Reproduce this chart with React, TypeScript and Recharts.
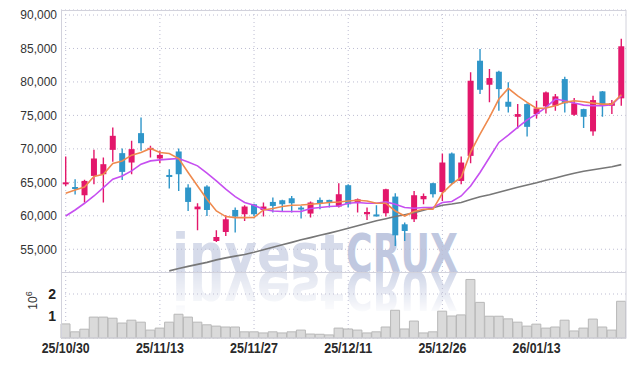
import React from "react";
import { ComposedChart, BarChart, Bar, Line, XAxis, YAxis, CartesianGrid } from "recharts";

const dates = [
     "25/10/30", "25/10/31", "25/11/03", "25/11/04", "25/11/05", "25/11/06", "25/11/07", "25/11/10", "25/11/11", "25/11/12",
     "25/11/13", "25/11/14", "25/11/17", "25/11/18", "25/11/19", "25/11/20", "25/11/21", "25/11/24", "25/11/25", "25/11/26",
     "25/11/27", "25/11/28", "25/12/01", "25/12/02", "25/12/03", "25/12/04", "25/12/05", "25/12/08", "25/12/09", "25/12/10",
     "25/12/11", "25/12/12", "25/12/15", "25/12/16", "25/12/17", "25/12/18", "25/12/19", "25/12/22", "25/12/23", "25/12/24",
     "25/12/26", "25/12/29", "25/12/30", "26/01/02", "26/01/05", "26/01/06", "26/01/07", "26/01/08", "26/01/09", "26/01/12",
     "26/01/13", "26/01/14", "26/01/15", "26/01/16", "26/01/19", "26/01/20", "26/01/21", "26/01/22", "26/01/23", "26/01/26",
];

const opens = [
     64900, 64300, 63070, 65960, 66210, 69850, 69360, 67960, 72350, 69850,
     68560, 66100, 69610, 64220, 60970, 64370, 56230, 57580, 60870, 60230,
     61720, 60870, 62070, 62320, 62620, 61230, 60330, 62370, 62370, 61380,
     64570, 62070, 60230, 60200, 60380, 62870, 58730, 59480, 62470, 64870,
     63560, 69310, 65210, 68950, 83170, 79580, 81530, 77040, 74790, 76690,
     75200, 76350, 76440, 80430, 75090, 75940, 72610, 78590, 76440, 77550,
];
const highs = [
     68860, 65460, 65400, 69850, 68710, 73200, 70060, 71200, 74700, 70450,
     69700, 66960, 70060, 64720, 61870, 64570, 57830, 60080, 61230, 61570,
     61800, 61980, 62730, 62400, 62960, 61470, 62130, 62730, 62400, 64870,
     64700, 62580, 61230, 61570, 64050, 63370, 58980, 63710, 63320, 64950,
     69310, 69460, 68860, 81440, 84930, 81930, 81680, 79940, 76690, 76800,
     77190, 78590, 78190, 80780, 77590, 76000, 77930, 78650, 77290, 86450,
];
const lows = [
     64460, 63170, 61980, 64720, 61980, 68080, 65360, 66210, 69700, 68700,
     67860, 64070, 63710, 60720, 57830, 59970, 56080, 56980, 57490, 59220,
     59970, 59880, 60480, 60570, 60480, 59580, 59730, 60970, 61230, 61230,
     61230, 60480, 59370, 59880, 59880, 55480, 56230, 59070, 61720, 62730,
     62220, 64720, 64720, 67860, 78190, 76950, 75690, 75450, 73050, 71860,
     74540, 75300, 75690, 75450, 74950, 73100, 71950, 74790, 75200, 76440,
];
const closes = [
     65000, 64200, 65210, 68560, 67710, 71950, 66560, 69960, 70850, 70150,
     69100, 65950, 66210, 62070, 61380, 60870, 56830, 59480, 59880, 61380,
     60230, 61380, 61470, 61720, 61870, 60980, 61980, 61870, 61980, 63220,
     61720, 62470, 60570, 60120, 63970, 57080, 57730, 63070, 62960, 63220,
     67960, 64870, 67960, 80180, 78830, 80580, 78930, 76290, 75200, 73290,
     76050, 78440, 77840, 76800, 76800, 74790, 77290, 76590, 76840, 85330,
];

const ma5 = [
     63370, 63860, 64310, 65870, 66210, 67810, 68200, 69060, 69460, 70060,
     69460, 69310, 68560, 66470, 64460, 62470, 60720, 59880, 59730, 59730,
     59750, 60870, 61080, 61380, 61570, 61620, 61720, 61830, 61980, 62070,
     62220, 62320, 62220, 61870, 61870, 60720, 59970, 60630, 60970, 60970,
     63370, 64720, 65760, 69510, 72200, 74700, 77440, 79040, 77930, 76950,
     76050, 76100, 76440, 76950, 77190, 77040, 76840, 76690, 76690, 78080,
];
const ma20 = [
     59970, 60870, 61870, 62960, 64220, 65460, 65960, 66710, 67710, 68200,
     68350, 68460, 68560, 68050, 67460, 66360, 65210, 63970, 62870, 61980,
     61570, 60970, 60720, 60630, 60630, 60630, 61080, 61230, 61380, 61470,
     61870, 61980, 61870, 61870, 62070, 61720, 61230, 61120, 61230, 61230,
     61980, 62130, 62960, 64460, 66470, 68710, 70960, 72050, 73200, 74340,
     75200, 76200, 77440, 77190, 76840, 76540, 76440, 76440, 76590, 77930,
];
const ma60 = [
     null, null, null, null, null, null, null, null, null, null,
     null, 51770, 52110, 52440, 52740, 53040, 53410, 53710, 53970, 54210,
     54540, 54910, 55290, 55660, 56030, 56410, 56740, 57080, 57410, 57760,
     58130, 58500, 58880, 59250, 59550, 59880, 60150, 60450, 60820, 61200,
     61570, 61750, 61980, 62430, 62850, 63140, 63520, 63890, 64270, 64600,
     64940, 65310, 65660, 66020, 66360, 66660, 66890, 67110, 67340, 67640,
];

const volumes = [
     640000, 280000, 400000, 950000, 950000, 900000, 680000, 810000, 720000, 360000,
     450000, 720000, 1080000, 950000, 720000, 600000, 540000, 500000, 500000, 280000,
     280000, 230000, 280000, 230000, 280000, 360000, 180000, 170000, 140000, 450000,
     410000, 360000, 230000, 280000, 500000, 1260000, 410000, 770000, 230000, 280000,
     1220000, 1000000, 1050000, 2660000, 1620000, 990000, 990000, 870000, 720000, 540000,
     630000, 450000, 500000, 810000, 320000, 450000, 860000, 500000, 360000, 1670000,
];

const priceTicks = [55000, 60000, 65000, 70000, 75000, 80000, 85000, 90000];
const volumeTicks = [1000000, 2000000];
const tickIndexes = [0, 10, 20, 30, 40, 50];
const dateTicks = tickIndexes.map((i) => dates[i]);

const rows = dates.map((date, i) => ({
     date,
     open: opens[i],
     high: highs[i],
     low: lows[i],
     close: closes[i],
     range: [lows[i], highs[i]],
     ma5: ma5[i],
     ma20: ma20[i],
     ma60: ma60[i],
     volume: volumes[i],
}));

const UP = "#e3176b";
const DOWN = "#2f96c9";
const GRID = "#bdbdd2";
const FRAME = "#d2d2dc";

// vertical grid lines through the centre of each labelled day
const dateGridLines = ({ offset }: any) => {
     const band = offset.width / dates.length;
     return tickIndexes.map((i) => offset.left + (i + 0.5) * band);
};

function Candle(props: any) {
     const { x, y, width, height, payload } = props;
     if (!payload) return null;
     const top = Math.min(y, y + height);
     const h = Math.abs(height);
     const { open, close, high, low } = payload;
     const pos = (v: number) => top + ((high - v) / (high - low)) * h;
     const color = close >= open ? UP : DOWN;
     const cx = x + width / 2;
     const bTop = pos(Math.max(open, close));
     const bBot = pos(Math.min(open, close));
     return (
          <g>
               <line x1={cx} x2={cx} y1={top} y2={top + h} stroke={color} strokeWidth={1.4} />
               <rect x={x} y={bTop} width={width} height={Math.max(bBot - bTop, 2)} fill={color} />
          </g>
     );
}

function DateTick(props: any) {
     const { x, y, payload } = props;
     return (
          <text
               x={x}
               y={y}
               dy={15}
               textAnchor="middle"
               fill="#2a2a2a"
               fontSize={15}
               fontWeight="bold"
               fontFamily="'Liberation Sans Narrow', 'Liberation Sans', sans-serif"
               textLength={48}
               lengthAdjust="spacingAndGlyphs"
          >
               {payload.value}
          </text>
     );
}

export default function App() {
     return (
          <div style={{ position: "absolute", left: 0, top: 0, width: 634, height: 367, background: "#fff", fontFamily: "'Liberation Sans', Arial, sans-serif" }}>
               <svg width={634} height={367} style={{ position: "absolute", left: 0, top: 0 }}>
                    <defs>
                         <linearGradient id="fade" gradientUnits="userSpaceOnUse" x1="0" y1="272" x2="0" y2="316">
                              <stop offset="0" stopColor="#fff" stopOpacity={0.75} />
                              <stop offset="1" stopColor="#fff" stopOpacity={0} />
                         </linearGradient>
                         <mask id="reflMask" maskUnits="userSpaceOnUse" x="0" y="272" width="634" height="60">
                              <rect x="0" y="272" width="634" height="60" fill="url(#fade)" />
                         </mask>
                    </defs>
                    <g fontFamily="'DejaVu Sans', sans-serif" fontWeight="bold" fontSize={53}>
                         <text x={172} y={272} fill="#d6dbea" textLength={172} lengthAdjust="spacingAndGlyphs">invest</text>
                         <text x={346} y={272} fill="#c0c8e0" textLength={112} lengthAdjust="spacingAndGlyphs">CRUX</text>
                         <g mask="url(#reflMask)">
                              <g transform="translate(0,544) scale(1,-1)">
                                   <text x={172} y={272} fill="#d6dbea" textLength={172} lengthAdjust="spacingAndGlyphs">invest</text>
                                   <text x={346} y={272} fill="#c0c8e0" textLength={112} lengthAdjust="spacingAndGlyphs">CRUX</text>
                              </g>
                         </g>
                    </g>
               </svg>

               <div style={{ position: "absolute", left: 0, top: 0 }}>
                    <ComposedChart width={634} height={272} data={rows} margin={{ top: 10, right: 8, bottom: 0, left: 0 }} barCategoryGap="18%">
                         <CartesianGrid stroke={GRID} strokeDasharray="1 3" verticalCoordinatesGenerator={dateGridLines} />
                         <XAxis dataKey="date" ticks={dateTicks} interval={0} height={0} tick={false} tickLine={false} axisLine={false} />
                         <YAxis
                              domain={[51600, 90750]}
                              ticks={priceTicks}
                              allowDataOverflow
                              width={61}
                              axisLine={false}
                              tickLine={false}
                              tickSize={0}
                              tickMargin={4}
                              tick={{ fill: "#333", fontSize: 12 }}
                              tickFormatter={(v: number) => v.toLocaleString("en-US")}
                         />
                         <Bar dataKey="range" shape={<Candle />} isAnimationActive={false} />
                         <Line dataKey="ma60" type="linear" stroke="#777" strokeWidth={1.6} dot={false} isAnimationActive={false} />
                         <Line dataKey="ma20" type="linear" stroke="#c64ff0" strokeWidth={1.6} dot={false} isAnimationActive={false} />
                         <Line dataKey="ma5" type="linear" stroke="#ef8a4e" strokeWidth={1.6} dot={false} isAnimationActive={false} />
                    </ComposedChart>
               </div>

               <div style={{ position: "absolute", left: 0, top: 272 }}>
                    <BarChart width={634} height={95} data={rows} margin={{ top: 0, right: 8, bottom: 0, left: 0 }} barCategoryGap={0}>
                         <CartesianGrid stroke={GRID} strokeDasharray="1 3" verticalCoordinatesGenerator={dateGridLines} />
                         <XAxis
                              dataKey="date"
                              ticks={dateTicks}
                              interval={0}
                              height={29}
                              tickLine={false}
                              axisLine={false}
                              tickSize={0}
                              tickMargin={0}
                              tick={<DateTick />}
                         />
                         <YAxis
                              domain={[0, 3000000]}
                              ticks={volumeTicks}
                              width={61}
                              axisLine={false}
                              tickLine={false}
                              tickSize={0}
                              tickMargin={5}
                              tick={{ fill: "#222", fontSize: 14, fontWeight: "bold" }}
                              tickFormatter={(v: number) => String(v / 1000000)}
                         />
                         <Bar dataKey="volume" fill="#dadada" stroke="#b8b8b8" strokeWidth={1} isAnimationActive={false} />
                    </BarChart>
               </div>

               <svg width={634} height={367} style={{ position: "absolute", left: 0, top: 0, pointerEvents: "none" }}>
                    <rect x={61.5} y={10.5} width={564.5} height={327.5} fill="none" stroke={FRAME} />
                    <line x1={61} x2={626} y1={272.5} y2={272.5} stroke={FRAME} />
                    <text transform="translate(37,300.5) rotate(-90)" textAnchor="middle" fontSize={12} fill="#333">
                         10<tspan dy={-5} fontSize={9}>6</tspan>
                    </text>
               </svg>
          </div>
     );
}
